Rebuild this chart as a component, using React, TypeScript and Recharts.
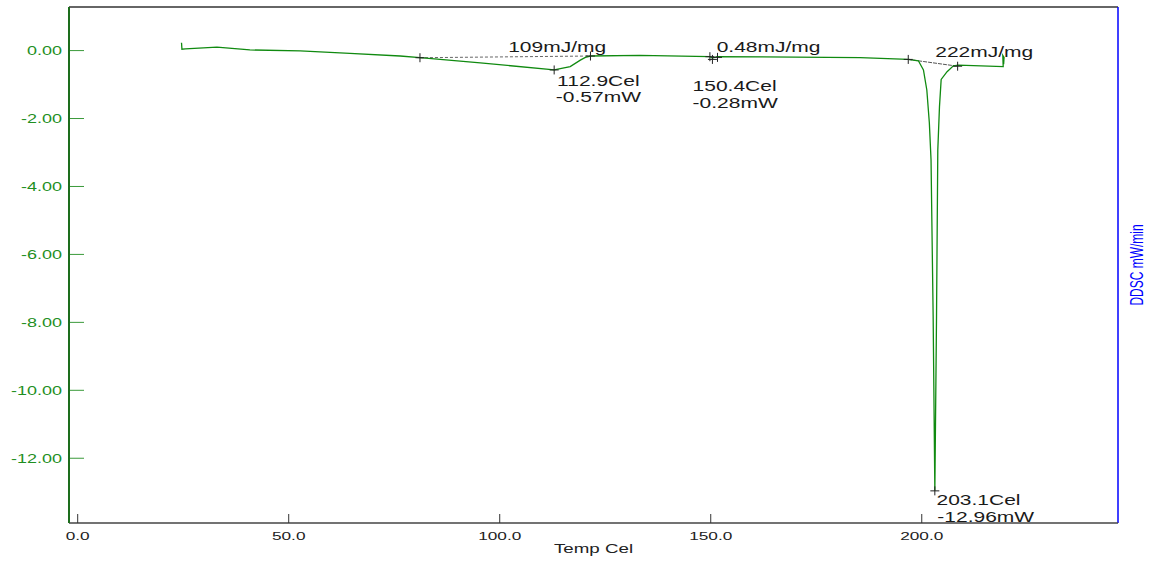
import {
  ComposedChart,
  Line,
  Scatter,
  XAxis,
  YAxis,
  ReferenceLine,
} from "recharts";

// DSC trace: temperature (Cel) and DDSC signal (mW)
const temps = [
  24.6, 24.7, 25.5, 33.0, 40.8, 52.7, 64.5, 76.4, 81.1, 95.4, 112.9, 116.7,
  119.1, 120.3, 121.5, 133.2, 149.8, 150.4, 151.5, 170.0, 185.4, 196.8, 199.2,
  200.4, 201.2, 201.8, 202.2, 202.7, 203.1, 203.5, 203.8, 204.2, 204.6, 206.0,
  207.5, 208.7, 219.3, 219.2, 219.5, 219.4,
];
const ddsc = [
  0.23, 0.04, 0.05, 0.1, 0.02, -0.01, -0.08, -0.16, -0.21, -0.36, -0.57,
  -0.47, -0.28, -0.2, -0.16, -0.14, -0.18, -0.22, -0.18, -0.19, -0.21, -0.26,
  -0.3, -0.57, -1.16, -2.13, -3.22, -7.83, -12.96, -7.83, -2.93, -1.65, -0.85,
  -0.62, -0.45, -0.43, -0.47, -0.14, -0.2, -0.4,
];

// analysis markers (+)
const markTemps = [81.1, 112.9, 121.5, 149.8, 150.4, 151.6, 196.8, 208.5, 203.1];
const markVals = [-0.21, -0.57, -0.16, -0.18, -0.26, -0.2, -0.26, -0.46, -12.96];

// integration baselines
const baselineA = [
  { t: 81.1, v: -0.21 },
  { t: 121.5, v: -0.16 },
];
const baselineB = [
  { t: 196.8, v: -0.26 },
  { t: 208.5, v: -0.46 },
];

// annotation texts, anchored at text start / baseline
const noteTemps = [102.0, 113.6, 113.3, 151.4, 145.7, 145.7, 203.2, 203.5, 203.7];
const noteVals = [-0.04, -1.03, -1.51, -0.03, -1.2, -1.68, -0.2, -13.38, -13.88];
const noteTexts = [
  "109mJ/mg",
  "112.9Cel",
  "-0.57mW",
  "0.48mJ/mg",
  "150.4Cel",
  "-0.28mW",
  "222mJ/mg",
  "203.1Cel",
  "-12.96mW",
];

const xTicks = [0, 50, 100, 150, 200];
const yTicks = [0, -2, -4, -6, -8, -10, -12];
const xDomain = [-2.06, 246.5];
const yDomain = [-13.906, 1.283];

const curve = temps.map((t, i) => ({ t, v: ddsc[i] }));
const marks = markTemps.map((t, i) => ({ t, v: markVals[i] }));
const notes = noteTemps.map((t, i) => ({ t, v: noteVals[i], text: noteTexts[i] }));

const SANS = "'Liberation Sans', Arial, sans-serif";
const STRETCH = 1.5;

const YTick = (props: any) => {
  const { x, y, payload } = props;
  return (
    <g>
      <line x1={x + 1} x2={x + 15} y1={y} y2={y} stroke="#3a9a3a" />
      <text
        transform={`translate(${x - 7},${y + 4.5}) scale(${STRETCH},1)`}
        textAnchor="end"
        fontSize={12}
        fontFamily={SANS}
        fill="#1f8f1f"
      >
        {Number(payload.value).toFixed(2)}
      </text>
    </g>
  );
};

const XTick = (props: any) => {
  const { x, y, payload } = props;
  return (
    <g>
      <line x1={x} x2={x} y1={y} y2={y - 9} stroke="#333" />
      <text
        transform={`translate(${x},${y + 17}) scale(${STRETCH},1)`}
        textAnchor="middle"
        fontSize={11.5}
        fontFamily={SANS}
        fill="#222"
      >
        {Number(payload.value).toFixed(1)}
      </text>
    </g>
  );
};

const XTitle = (props: any) => {
  const vb = props.viewBox;
  return (
    <text
      transform={`translate(${vb.x + vb.width / 2},${vb.y + 30}) scale(${STRETCH},1)`}
      textAnchor="middle"
      fontSize={12.5}
      fontFamily={SANS}
      fill="#222"
    >
      Temp Cel
    </text>
  );
};

const RightTitle = (props: any) => {
  const vb = props.viewBox;
  return (
    <text
      transform={`translate(${vb.x + 25},${vb.y + vb.height / 2}) scale(${STRETCH},1) rotate(-90)`}
      textAnchor="middle"
      fontSize={12}
      fontFamily={SANS}
      fill="#0000ff"
    >
      DDSC mW/min
    </text>
  );
};

const Cross = (props: any) => {
  const { cx, cy } = props;
  return (
    <g stroke="#222" strokeWidth={1}>
      <line x1={cx - 4.5} x2={cx + 4.5} y1={cy} y2={cy} />
      <line x1={cx} x2={cx} y1={cy - 4.5} y2={cy + 4.5} />
    </g>
  );
};

const Note = (props: any) => {
  const { cx, cy, payload } = props;
  return (
    <text
      transform={`translate(${cx},${cy}) scale(1.5,1)`}
      fontSize={14}
      fontFamily={SANS}
      fill="#1a1a1a"
    >
      {payload.text}
    </text>
  );
};

export default function App() {
  return (
    <div
      style={{
        position: "absolute",
        left: 0,
        top: 0,
        width: 1151,
        height: 563,
        background: "#fff",
      }}
    >
      <ComposedChart
        width={1151}
        height={563}
        data={curve}
        margin={{ top: 7, right: 33, bottom: 0, left: 0 }}
      >
        <XAxis
          dataKey="t"
          type="number"
          domain={xDomain}
          allowDataOverflow
          ticks={xTicks}
          interval={0}
          tick={<XTick />}
          tickLine={false}
          tickSize={0}
          tickMargin={0}
          height={40}
          stroke="#444"
          strokeWidth={1.5}
          label={{ content: XTitle }}
        />
        <YAxis
          type="number"
          domain={yDomain}
          allowDataOverflow
          ticks={yTicks}
          interval={0}
          tick={<YTick />}
          tickLine={false}
          tickSize={0}
          tickMargin={0}
          width={69}
          stroke="#1d6d1d"
          strokeWidth={2}
        />
        <ReferenceLine y={yDomain[1]} stroke="#333" strokeWidth={1.5} ifOverflow="visible" />
        <ReferenceLine
          x={xDomain[1]}
          stroke="#0000ff"
          strokeWidth={1.5}
          ifOverflow="visible"
          label={{ content: RightTitle }}
        />
        <ReferenceLine
          segment={[
            { x: baselineA[0].t, y: baselineA[0].v },
            { x: baselineA[1].t, y: baselineA[1].v },
          ]}
          stroke="#666"
          strokeDasharray="3 2"
        />
        <ReferenceLine
          segment={[
            { x: baselineB[0].t, y: baselineB[0].v },
            { x: baselineB[1].t, y: baselineB[1].v },
          ]}
          stroke="#555"
          strokeDasharray="4 1"
        />
        <Line
          type="linear"
          dataKey="v"
          stroke="#108a10"
          strokeWidth={1.3}
          dot={false}
          isAnimationActive={false}
        />
        <Scatter data={marks} dataKey="v" shape={<Cross />} isAnimationActive={false} />
        <Scatter data={notes} dataKey="v" shape={<Note />} isAnimationActive={false} />
      </ComposedChart>
    </div>
  );
}
